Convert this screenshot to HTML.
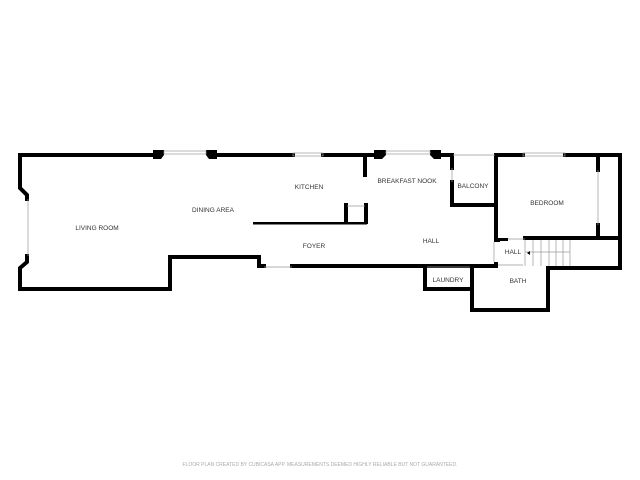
<!DOCTYPE html>
<html><head><style>
html,body{margin:0;padding:0;background:#fff;width:640px;height:480px;overflow:hidden}
svg{display:block}
text{font-family:"Liberation Sans",sans-serif;font-size:6.5px;fill:#333;text-anchor:middle}
</style></head><body>
<svg width="640" height="480" viewBox="0 0 640 480">
<g stroke="#000" stroke-width="4" fill="none" stroke-linejoin="miter" stroke-linecap="square">
<polyline points="158,155 20,155 20,188 27,195 27,199"/>
<polyline points="27,256 27,262 20,268 20,289 170,289 170,257 259,257 259,266 264,266"/>
<polyline points="292,266 425,266 425,289 471,289"/>
<polyline points="217,155 293,155"/>
<polyline points="323,155 375,155"/>
<polyline points="440,155 452,155 452,168"/>
<polyline points="452,182 452,205 496,205"/>
<polyline points="496,155 496,240 498,240"/>
<polyline points="496,155 523,155"/>
<polyline points="565,155 620,155 620,268 548,268 548,310 472,310 472,266 496,266"/>
<polyline points="472,266 425,266"/>
<polyline points="525,238 620,238"/>
<polyline points="598,156 598,170"/>
<polyline points="598,225 598,237"/>
<polyline points="365,156 365,175"/>
<polyline points="346,205 346,222"/>
<polyline points="366,205 366,222"/>
</g>
<g fill="#000">
<polygon points="153,150 164,150 164,155 161,159 153,159"/>
<polygon points="206,150 217,150 217,159 209,159 206,155"/>
<polygon points="374,150 386,150 386,155 382,159 374,159"/>
<polygon points="430,150 441,150 441,159 434,159 430,155"/>
<rect x="253" y="222" width="114" height="2.5"/>
<rect x="494" y="238" width="14" height="3"/>
<rect x="494" y="262" width="4" height="6"/>
</g>
<g stroke="#999" stroke-width="0.7" fill="none">
<rect x="164" y="151" width="42" height="3"/>
<rect x="293" y="153" width="30" height="3"/>
<rect x="386" y="151" width="44" height="3"/>
<rect x="523" y="153" width="42" height="3"/>
<line x1="28" y1="199" x2="28" y2="256"/>
<line x1="264" y1="267" x2="292" y2="267"/>
<line x1="452" y1="168" x2="452" y2="182"/>
<line x1="453" y1="155" x2="495" y2="155"/>
<line x1="598" y1="170" x2="598" y2="225"/>
<line x1="347" y1="206" x2="365" y2="206"/>
<line x1="427" y1="267" x2="470" y2="267"/>
<line x1="498" y1="265" x2="523" y2="265"/>
<line x1="508" y1="239" x2="525" y2="239"/>
<line x1="494" y1="242" x2="494" y2="262"/>
<line x1="525" y1="252" x2="570" y2="252"/>
<line x1="533" y1="240" x2="533" y2="266"/>
<line x1="541" y1="240" x2="541" y2="266"/>
<line x1="549" y1="240" x2="549" y2="266"/>
<line x1="556" y1="240" x2="556" y2="266"/>
<line x1="563" y1="240" x2="563" y2="266"/>
<line x1="570" y1="240" x2="570" y2="266"/>
<line x1="525" y1="240" x2="525" y2="266"/>
</g>
<polygon points="527,253 530,251 530,255" fill="#000"/>
<text x="97" y="230">LIVING ROOM</text>
<text x="213" y="212">DINING AREA</text>
<text x="309" y="189">KITCHEN</text>
<text x="407" y="183">BREAKFAST NOOK</text>
<text x="473" y="188">BALCONY</text>
<text x="547" y="205">BEDROOM</text>
<text x="314" y="248">FOYER</text>
<text x="431" y="243">HALL</text>
<text x="513" y="254">HALL</text>
<text x="448" y="282">LAUNDRY</text>
<text x="518" y="283">BATH</text>
<text x="320" y="466" style="font-size:5px;fill:#aaa">FLOOR PLAN CREATED BY CUBICASA APP. MEASUREMENTS DEEMED HIGHLY RELIABLE BUT NOT GUARANTEED.</text>
</svg>
</body></html>
